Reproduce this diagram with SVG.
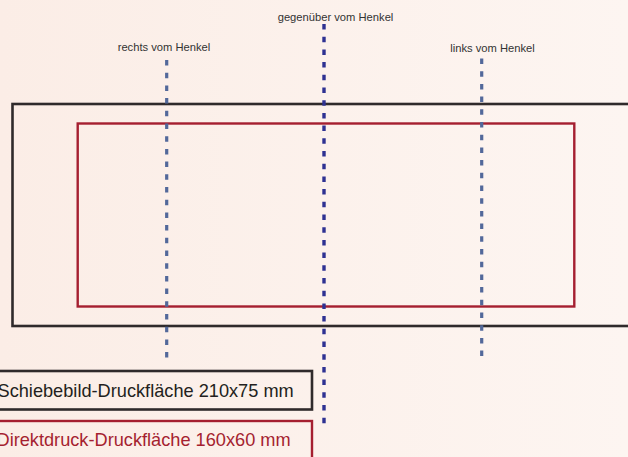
<svg xmlns="http://www.w3.org/2000/svg" width="628" height="457" viewBox="0 0 628 457">
<defs>
<linearGradient id="bg" x1="0" y1="0" x2="1" y2="0">
<stop offset="0" stop-color="#fbede6"/>
<stop offset="1" stop-color="#fdf5f1"/>
</linearGradient>
</defs>
<style>
.lbl{font-family:"Liberation Sans",Arial,sans-serif;font-size:11.2px;fill:#333;text-anchor:middle}
.leg{font-family:"Liberation Sans",Arial,sans-serif;font-size:18.2px}
.guide{fill:none;stroke:#52689a;stroke-width:3.2;stroke-dasharray:5.5 7.2}
.guideMid{fill:none;stroke:#2e3192;stroke-width:3.4;stroke-dasharray:5.5 7.2}
.outer{fill:none;stroke:#2f2a2b;stroke-width:2.6}
.inner{fill:none;stroke:#a51f30;stroke-width:2.4}
</style>
<rect x="0" y="0" width="628" height="457" fill="url(#bg)"/>
<g id="schiebebild-area"><rect class="outer" x="12.5" y="104" width="630" height="222"/></g>
<g id="direktdruck-area"><rect class="inner" x="77.7" y="123.5" width="496.6" height="183"/></g>
<g id="connectors">
<line class="guide" x1="166.7" y1="60" x2="166.7" y2="361"/>
<line class="guideMid" x1="324" y1="24" x2="324" y2="427"/>
<line class="guide" x1="481.7" y1="58.5" x2="481.7" y2="359"/>
</g>
<g id="label-rechts"><text class="lbl" x="164" y="51">rechts vom Henkel</text></g>
<g id="label-gegenueber"><text class="lbl" x="335.5" y="21">gegenüber vom Henkel</text></g>
<g id="label-links"><text class="lbl" x="492.5" y="52">links vom Henkel</text></g>
<g id="legend-schiebebild">
<rect x="-10" y="371" width="322" height="38.5" fill="none" stroke="#2f2a2b" stroke-width="2.6"/>
<text class="leg" x="-2.5" y="397" fill="#231f20">Schiebebild-Druckfläche 210x75 mm</text>
</g>
<g id="legend-direktdruck">
<rect x="-10" y="421" width="322" height="50" fill="none" stroke="#a51f30" stroke-width="2.4"/>
<text class="leg" x="-3.5" y="446" fill="#a51f30">Direktdruck-Druckfläche 160x60 mm</text>
</g>
</svg>
